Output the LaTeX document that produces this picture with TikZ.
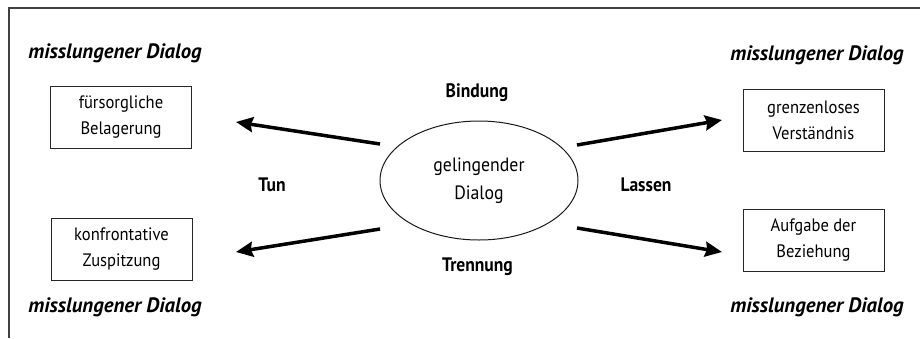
\documentclass[tikz,border=0pt]{standalone}
\usepackage{fontspec}
\setmainfont{PT Sans}[FakeStretch=0.92]
\newfontfamily\missfont{PT Sans}
\newfontfamily\labfont{PT Sans}[FakeStretch=0.9]
\usetikzlibrary{arrows.meta,shapes.geometric}
\tikzset{
  box/.style={draw=black!85,line width=0.9pt,minimum width=141pt,minimum height=62pt,inner sep=0pt,align=center,font=\fontsize{18}{26}\selectfont},
  ell/.style={draw=black!90,line width=1pt,ellipse,minimum width=198pt,minimum height=119pt,inner sep=0pt,align=center,font=\fontsize{19.3}{28}\selectfont},
  miss/.style={font=\missfont\fontsize{20.8}{22}\selectfont\bfseries\itshape,inner sep=0pt},
  lab/.style={font=\labfont\fontsize{19.5}{22}\selectfont\bfseries,inner sep=0pt},
  arr/.style={line width=3.5pt,-{Stealth[length=17pt,width=15pt,inset=2pt]}},
  frame/.style={line width=1.3pt,draw=black!75}
}
\begin{document}
\begin{tikzpicture}[x=1pt,y=-1pt]
\useasboundingbox (0,0) rectangle (920,338);
\coordinate (fa) at (9,338);
\coordinate (fb) at (9,8);
\coordinate (fc) at (920,8);
\draw[frame] (fa) -- (fb) -- (fc);

\node[miss] (m1) at (115,53) {misslungener Dialog};
\node[miss] (m2) at (817,55) {misslungener Dialog};
\node[miss] (m3) at (115,307) {misslungener Dialog};
\node[miss] (m4) at (817,307) {misslungener Dialog};

\node[box] (b1) at (121,117) {fürsorgliche\\Belagerung};
\node[box] (b2) at (813.5,120.5) {grenzenloses\\Verständnis};
\node[box] (b3) at (121.5,249) {konfrontative\\Zuspitzung};
\node[box] (b4) at (813.5,240) {Aufgabe der\\Beziehung};

\node[ell] (c) at (479,180.5) {gelingender\\Dialog};

\node[lab] (bi) at (477,93) {Bindung};
\node[lab] (tr) at (477.5,267) {Trennung};
\node[lab] (tu) at (272,185) {Tun};
\node[lab] (la) at (646,185) {Lassen};

\coordinate (s1) at (380,144);
\coordinate (e1) at (236,122);
\coordinate (s2) at (577,145);
\coordinate (e2) at (722,120);
\coordinate (s3) at (380,229);
\coordinate (e3) at (236,252);
\coordinate (s4) at (577,228);
\coordinate (e4) at (722,252);
\draw[arr] (s1) -- (e1);
\draw[arr] (s2) -- (e2);
\draw[arr] (s3) -- (e3);
\draw[arr] (s4) -- (e4);
\end{tikzpicture}
\end{document}
